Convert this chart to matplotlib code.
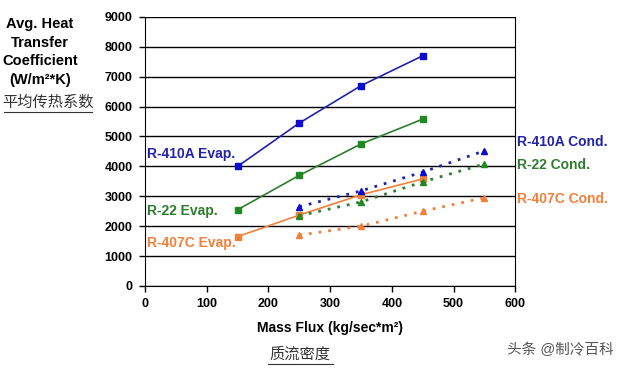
import matplotlib.pyplot as plt
from matplotlib.lines import Line2D

plt.rcParams['font.family'] = ['Liberation Sans', 'Noto Sans CJK SC', 'DejaVu Sans']

# mass flux (kg/sec*m2)
evap_x = [150, 250, 350, 450]
cond_x = [250, 350, 450, 550]

# average heat transfer coefficient (W/m2*K)
r410a_evap = [4000, 5450, 6700, 7700]
r22_evap = [2550, 3700, 4750, 5580]
r407c_evap = [1650, 2370, 3050, 3580]

r410a_cond = [2650, 3180, 3810, 4520]
r22_cond = [2350, 2810, 3480, 4080]
r407c_cond = [1700, 2000, 2500, 2950]

x_ticks = [0, 100, 200, 300, 400, 500, 600]
y_ticks = [0, 1000, 2000, 3000, 4000, 5000, 6000, 7000, 8000, 9000]

blue = '#2222aa'
blue_m = '#0a0ad0'
green = '#2e7d2e'
green_m = '#1f8a1f'
orange = '#f0803a'
dots = (0, (1, 2.5))

fig = plt.figure(figsize=(6.2, 3.68), dpi=100)
ax = fig.add_axes([0.234, 0.223, 0.597, 0.731])

ax.plot(evap_x, r410a_evap, '-', color=blue, lw=1.2, marker='s', ms=4.5,
        mfc=blue_m, mec=blue_m)
ax.plot(evap_x, r22_evap, '-', color=green, lw=1.2, marker='s', ms=4.5,
        mfc=green_m, mec=green_m)
ax.plot(evap_x, r407c_evap, '-', color=orange, lw=1.2, marker='s', ms=4.5,
        mfc=orange, mec=orange)

ax.plot(cond_x, r410a_cond, linestyle=dots, color=blue, lw=2, marker='^', ms=5,
        mfc=blue_m, mec=blue_m)
ax.plot(cond_x, r22_cond, linestyle=dots, color=green, lw=2, marker='^', ms=5,
        mfc=green_m, mec=green_m)
ax.plot(cond_x, r407c_cond, linestyle=dots, color=orange, lw=2, marker='^', ms=5,
        mfc=orange, mec=orange)

ax.set_xlim(0, 600)
ax.set_ylim(0, 9000)
ax.set_xticks(x_ticks)
ax.set_yticks(y_ticks)
ax.yaxis.grid(True, color='black', lw=1)
ax.set_axisbelow(True)
ax.spines['top'].set_visible(False)
for lbl in ax.get_xticklabels() + ax.get_yticklabels():
    lbl.set_fontweight('bold')
    lbl.set_fontsize(9)
ax.tick_params(length=4, width=1, pad=5)

# series labels
ax.text(3, 4400, 'R-410A Evap.', color=blue, fontsize=10, fontweight='bold', va='center')
ax.text(3, 2500, 'R-22 Evap.', color=green, fontsize=10, fontweight='bold', va='center')
ax.text(3, 1420, 'R-407C Evap.', color=orange, fontsize=10, fontweight='bold', va='center')
ax.text(603, 4800, 'R-410A Cond.', color=blue, fontsize=10, fontweight='bold', va='center', clip_on=False)
ax.text(603, 4050, 'R-22 Cond.', color=green, fontsize=10, fontweight='bold', va='center', clip_on=False)
ax.text(603, 2900, 'R-407C Cond.', color=orange, fontsize=10, fontweight='bold', va='center', clip_on=False)

# y axis title
fig.text(40 / 620, 1 - 52 / 368, 'Avg. Heat\nTransfer\nCoefficient\n(W/m²*K)',
         ha='center', va='center', fontsize=10.5, fontweight='bold', linespacing=1.45)
fig.text(48 / 620, 1 - 103 / 368, '平均传热系数', ha='center', va='center',
         fontsize=11, color='#333333')
fig.add_artist(Line2D([4 / 620, 92 / 620], [1 - 112 / 368] * 2, color='#333333', lw=0.8))

# x axis title
fig.text(330 / 620, 1 - 328 / 368, 'Mass Flux (kg/sec*m²)', ha='center', va='center',
         fontsize=10, fontweight='bold')
fig.text(300 / 620, 1 - 354 / 368, '质流密度', ha='center', va='center',
         fontsize=11, color='#333333')
fig.add_artist(Line2D([268 / 620, 333 / 620], [1 - 364 / 368] * 2, color='#333333', lw=0.8))

# watermark
fig.text(560 / 620, 1 - 350 / 368, '头条 @制冷百科', ha='center', va='center',
         fontsize=10.5, color='#555555')

fig.savefig('out.png', dpi=100)
